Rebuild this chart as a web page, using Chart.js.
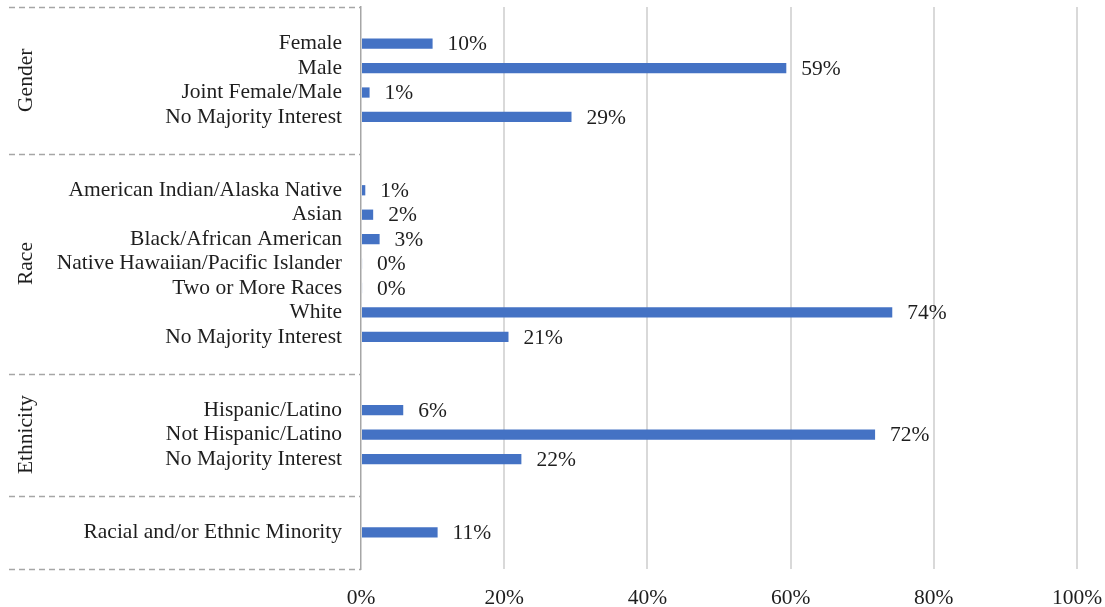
<!DOCTYPE html>
<html>
<head>
<meta charset="utf-8">
<script src="https://cdn.jsdelivr.net/npm/chart.js@4/dist/chart.umd.min.js"></script>
<style>
  html, body { margin: 0; padding: 0; background: #fff; }
  #wrap { width: 1105px; height: 607px; }
</style>
</head>
<body>
<div id="wrap"><canvas id="chart"></canvas></div>
<script>
// categories (blank entries are spacer rows between groups)
const categories = [
  '', 'Female', 'Male', 'Joint Female/Male', 'No Majority Interest', '',
  '', 'American Indian/Alaska Native', 'Asian', 'Black/African American',
  'Native Hawaiian/Pacific Islander', 'Two or More Races', 'White', 'No Majority Interest', '',
  '', 'Hispanic/Latino', 'Not Hispanic/Latino', 'No Majority Interest', '',
  '', 'Racial and/or Ethnic Minority', ''
];
// share of businesses, %
const shares = [
  null, 10.0, 59.4, 1.2, 29.4, null,
  null, 0.6, 1.7, 2.6, 0.15, 0.15, 74.2, 20.6, null,
  null, 5.9, 71.8, 22.4, null,
  null, 10.7, null
];
// group names with first/last row index
const groupNames = ['Gender', 'Race', 'Ethnicity', ''];
const groupStart = [0, 6, 15, 20];
const groupEnd = [5, 14, 19, 22];
const xTicks = [0, 20, 40, 60, 80, 100];

const textColor = '#1e1e1e';
const dashColor = '#a6a6a6';
const fontSize = 21.5;
Chart.defaults.font.family = '"Liberation Serif", "Times New Roman", serif';
Chart.defaults.font.size = fontSize;
Chart.defaults.color = textColor;

// value labels next to each bar
const valueLabels = {
  id: 'valueLabels',
  afterDatasetsDraw(chart) {
    const ctx = chart.ctx;
    const meta = chart.getDatasetMeta(0);
    ctx.save();
    ctx.font = fontSize + 'px "Liberation Serif"';
    ctx.fillStyle = textColor;
    ctx.textAlign = 'left';
    ctx.textBaseline = 'middle';
    meta.data.forEach((bar, i) => {
      const v = shares[i];
      if (v === null) return;
      ctx.fillText(Math.round(v) + '%', bar.x + 15, bar.y + 1);
    });
    ctx.restore();
  }
};

// group titles and dashed separators on the left
const groups = {
  id: 'groups',
  afterDraw(chart) {
    const ctx = chart.ctx;
    const y = chart.scales.y;
    const area = chart.chartArea;
    const half = (y.getPixelForValue(1) - y.getPixelForValue(0)) / 2;
    ctx.save();
    ctx.strokeStyle = dashColor;
    ctx.lineWidth = 1.5;
    ctx.setLineDash([6, 4]);
    const lines = [area.top];
    groupEnd.forEach(e => lines.push(y.getPixelForValue(e) + half));
    lines.forEach(py => {
      ctx.beginPath();
      ctx.moveTo(9, Math.round(py) + 0.5);
      ctx.lineTo(area.left, Math.round(py) + 0.5);
      ctx.stroke();
    });
    ctx.setLineDash([]);
    ctx.font = fontSize + 'px "Liberation Serif"';
    ctx.fillStyle = textColor;
    ctx.textAlign = 'center';
    ctx.textBaseline = 'middle';
    groupNames.forEach((name, g) => {
      if (!name) return;
      const cy = (y.getPixelForValue(groupStart[g]) + y.getPixelForValue(groupEnd[g])) / 2;
      ctx.save();
      ctx.translate(26, cy);
      ctx.rotate(-Math.PI / 2);
      ctx.fillText(name, 0, 0);
      ctx.restore();
    });
    ctx.restore();
  }
};

new Chart(document.getElementById('chart'), {
  type: 'bar',
  data: {
    labels: categories,
    datasets: [{
      data: shares,
      backgroundColor: '#4472C4',
      barPercentage: 0.42,
      categoryPercentage: 1,
    }]
  },
  options: {
    indexAxis: 'y',
    responsive: true,
    maintainAspectRatio: false,
    animation: false,
    layout: { padding: { top: 7, right: 28, left: 0, bottom: 0 } },
    plugins: {
      legend: { display: false },
      tooltip: { enabled: false },
    },
    scales: {
      x: {
        min: 0,
        max: 100,
        afterBuildTicks: (scale) => { scale.ticks = xTicks.map(v => ({ value: v })); },
        afterFit: (scale) => {
          scale.height = 38;
          scale.paddingLeft = 0;
          scale.paddingRight = 0;
        },
        ticks: {
          callback: (v) => v + '%',
          padding: 16,
          color: textColor,
          font: { size: fontSize },
        },
        grid: {
          color: (c) => (c.tick && c.tick.value === 0) ? 'rgba(0,0,0,0)' : '#d9d9d9',
          lineWidth: 2,
          drawTicks: false,
        },
        border: { display: false },
      },
      y: {
        afterFit: (scale) => {
          scale.width = 361;
          scale.paddingTop = 0;
          scale.paddingBottom = 0;
        },
        ticks: {
          autoSkip: false,
          padding: 11,
          color: textColor,
          font: { size: fontSize },
        },
        grid: { display: false },
        border: { display: true, color: dashColor, width: 1.5, dash: [6, 4] },
      }
    }
  },
  plugins: [valueLabels, groups]
});
</script>
</body>
</html>
